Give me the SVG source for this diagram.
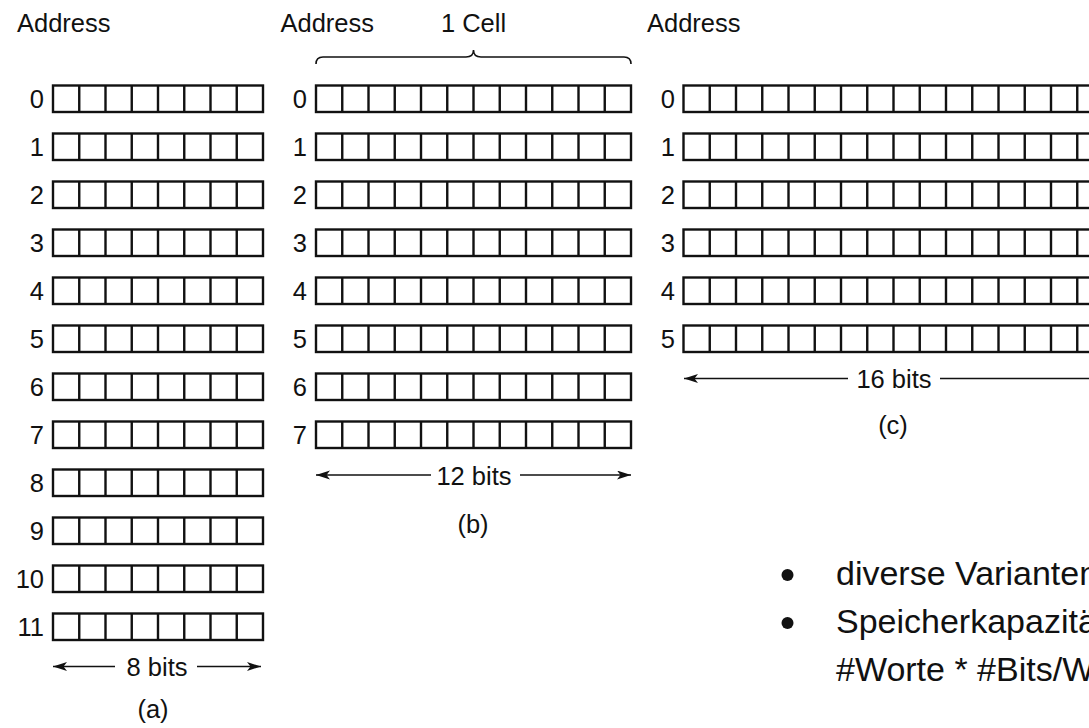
<svg xmlns="http://www.w3.org/2000/svg" xmlns:xlink="http://www.w3.org/1999/xlink" width="1089" height="728" viewBox="0 0 1089 728">
<style>
  .t { font-family: "Liberation Sans", Arial, sans-serif; font-size: 25.5px; fill: #111; }
  .n { font-family: "Liberation Sans", Arial, sans-serif; font-size: 25.5px; fill: #111; text-anchor: end; }
  .m { text-anchor: middle; }
  .b { font-family: "Liberation Sans", Arial, sans-serif; font-size: 34px; fill: #111; }
  .cell { fill: #fff; stroke: #111; stroke-width: 2.4; }
  .div { stroke: #111; stroke-width: 2.4; }
  .dim { stroke: #111; stroke-width: 1.6; fill: none; }
</style>
<defs>
  <marker id="ah" markerUnits="userSpaceOnUse" markerWidth="15" markerHeight="10" refX="14" refY="4.5" orient="auto">
    <path d="M0,0 L14,4.5 L0,9 L3.5,4.5 Z" fill="#111"/>
  </marker>
  <g id="r8">
    <rect class="cell" x="0" y="0" width="210" height="26.5"/>
    <path class="div" d="M26.25,0V26.5M52.5,0V26.5M78.75,0V26.5M105,0V26.5M131.25,0V26.5M157.5,0V26.5M183.75,0V26.5"/>
  </g>
  <g id="r12">
    <rect class="cell" x="0" y="0" width="315" height="26.5"/>
    <path class="div" d="M26.25,0V26.5M52.5,0V26.5M78.75,0V26.5M105,0V26.5M131.25,0V26.5M157.5,0V26.5M183.75,0V26.5M210,0V26.5M236.25,0V26.5M262.5,0V26.5M288.75,0V26.5"/>
  </g>
  <g id="r16">
    <rect class="cell" x="0" y="0" width="420" height="26.5"/>
    <path class="div" d="M26.25,0V26.5M52.5,0V26.5M78.75,0V26.5M105,0V26.5M131.25,0V26.5M157.5,0V26.5M183.75,0V26.5M210,0V26.5M236.25,0V26.5M262.5,0V26.5M288.75,0V26.5M315,0V26.5M341.25,0V26.5M367.5,0V26.5M393.75,0V26.5"/>
  </g>
</defs>

<g id="mem-a">
  <text class="t" x="17" y="32">Address</text>
  <use xlink:href="#r8" x="53" y="85.5"/>
  <use xlink:href="#r8" x="53" y="133.5"/>
  <use xlink:href="#r8" x="53" y="181.5"/>
  <use xlink:href="#r8" x="53" y="229.5"/>
  <use xlink:href="#r8" x="53" y="277.5"/>
  <use xlink:href="#r8" x="53" y="325.5"/>
  <use xlink:href="#r8" x="53" y="373.5"/>
  <use xlink:href="#r8" x="53" y="421.5"/>
  <use xlink:href="#r8" x="53" y="469.5"/>
  <use xlink:href="#r8" x="53" y="517.5"/>
  <use xlink:href="#r8" x="53" y="565.5"/>
  <use xlink:href="#r8" x="53" y="613.5"/>
  <text class="n" x="44" y="108">0</text>
  <text class="n" x="44" y="156">1</text>
  <text class="n" x="44" y="204">2</text>
  <text class="n" x="44" y="252">3</text>
  <text class="n" x="44" y="300">4</text>
  <text class="n" x="44" y="348">5</text>
  <text class="n" x="44" y="396">6</text>
  <text class="n" x="44" y="444">7</text>
  <text class="n" x="44" y="492">8</text>
  <text class="n" x="44" y="540">9</text>
  <text class="n" x="44" y="588">10</text>
  <text class="n" x="44" y="636">11</text>
  <text class="t m" x="157" y="676">8 bits</text>
  <text class="t m" x="153" y="718">(a)</text>
</g>

<g id="mem-b">
  <text class="t" x="280.5" y="32">Address</text>
  <text class="t m" x="473.5" y="32">1 Cell</text>
  <path class="dim" d="M316,64 Q316,57 323,57 L466,57 Q473.5,57 473.5,50 Q473.5,57 481,57 L624,57 Q631,57 631,64"/>
  <use xlink:href="#r12" x="316" y="85.5"/>
  <use xlink:href="#r12" x="316" y="133.5"/>
  <use xlink:href="#r12" x="316" y="181.5"/>
  <use xlink:href="#r12" x="316" y="229.5"/>
  <use xlink:href="#r12" x="316" y="277.5"/>
  <use xlink:href="#r12" x="316" y="325.5"/>
  <use xlink:href="#r12" x="316" y="373.5"/>
  <use xlink:href="#r12" x="316" y="421.5"/>
  <text class="n" x="307" y="108">0</text>
  <text class="n" x="307" y="156">1</text>
  <text class="n" x="307" y="204">2</text>
  <text class="n" x="307" y="252">3</text>
  <text class="n" x="307" y="300">4</text>
  <text class="n" x="307" y="348">5</text>
  <text class="n" x="307" y="396">6</text>
  <text class="n" x="307" y="444">7</text>
  <text class="t m" x="474" y="484.5">12 bits</text>
  <text class="t m" x="473" y="533">(b)</text>
</g>

<g id="mem-c">
  <text class="t" x="647" y="32">Address</text>
  <use xlink:href="#r16" x="683.5" y="85.5"/>
  <use xlink:href="#r16" x="683.5" y="133.5"/>
  <use xlink:href="#r16" x="683.5" y="181.5"/>
  <use xlink:href="#r16" x="683.5" y="229.5"/>
  <use xlink:href="#r16" x="683.5" y="277.5"/>
  <use xlink:href="#r16" x="683.5" y="325.5"/>
  <text class="n" x="675" y="108">0</text>
  <text class="n" x="675" y="156">1</text>
  <text class="n" x="675" y="204">2</text>
  <text class="n" x="675" y="252">3</text>
  <text class="n" x="675" y="300">4</text>
  <text class="n" x="675" y="348">5</text>
  <text class="t m" x="894" y="387.5">16 bits</text>
  <text class="t m" x="893" y="434">(c)</text>
</g>

<g id="connectors">
  <line class="dim" x1="115" y1="666.5" x2="53" y2="666.5" marker-end="url(#ah)"/>
  <line class="dim" x1="197" y1="666.5" x2="261" y2="666.5" marker-end="url(#ah)"/>
  <line class="dim" x1="431" y1="475" x2="316" y2="475" marker-end="url(#ah)"/>
  <line class="dim" x1="520" y1="475" x2="631" y2="475" marker-end="url(#ah)"/>
  <line class="dim" x1="848" y1="378.5" x2="684" y2="378.5" marker-end="url(#ah)"/>
  <line class="dim" x1="940" y1="378.5" x2="1103" y2="378.5" marker-end="url(#ah)"/>
</g>

<g id="notes">
  <circle cx="787.5" cy="575" r="6" fill="#111"/>
  <circle cx="787.5" cy="623" r="6" fill="#111"/>
  <text class="b" x="836" y="585">diverse Varianten</text>
  <text class="b" x="836" y="633">Speicherkapazität</text>
  <text class="b" x="836" y="681">#Worte * #Bits/Wort</text>
</g>
</svg>
